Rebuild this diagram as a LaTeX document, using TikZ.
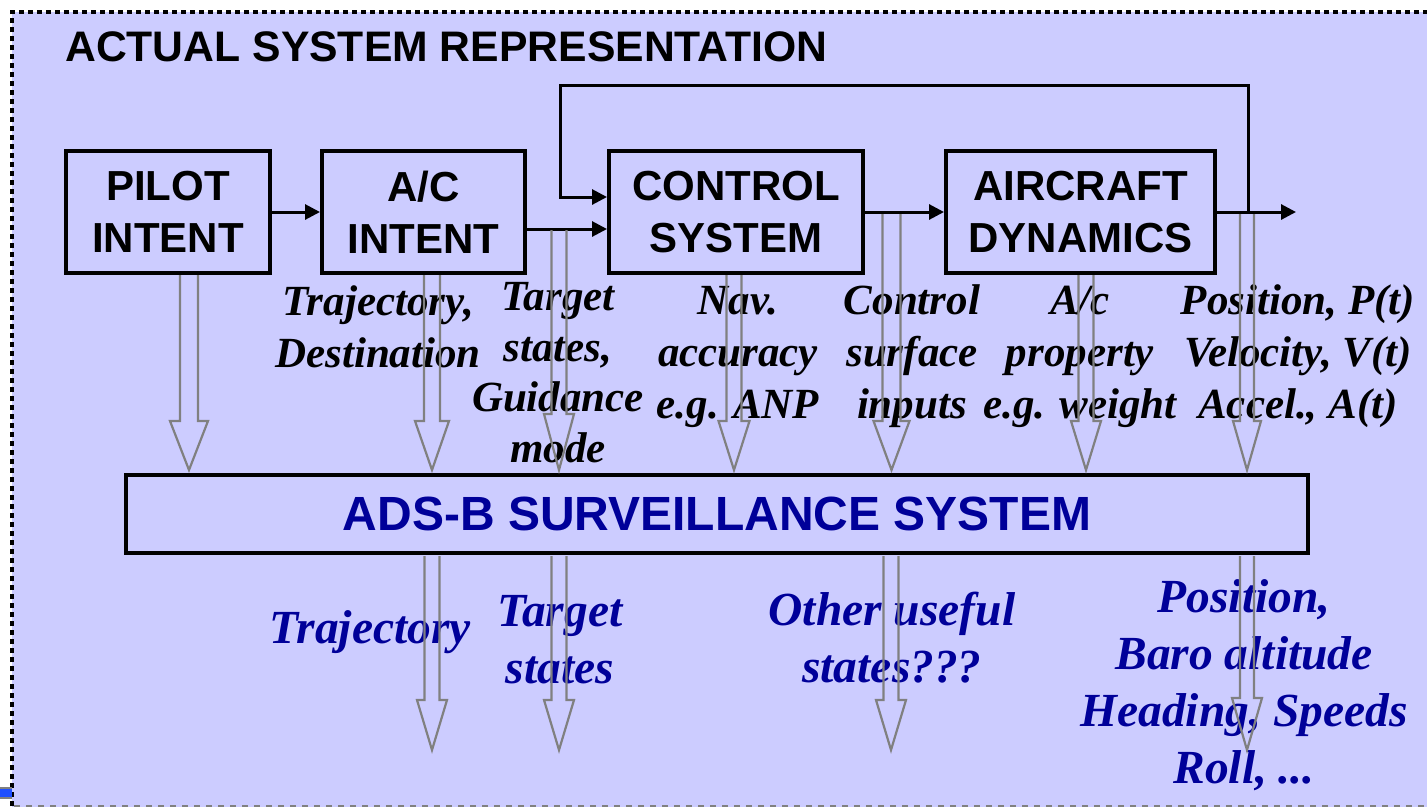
\documentclass[tikz,border=0pt]{standalone}
\usepackage{fontspec}
\setmainfont{Liberation Serif}
\setsansfont{Liberation Sans}
\usetikzlibrary{arrows.meta}
\definecolor{bgc}{HTML}{CCCCFF}
\definecolor{dblue}{HTML}{000099}
\definecolor{agray}{HTML}{808080}
\definecolor{mblue}{HTML}{1F4FFF}
\newcommand\hollowarrow[6]{%
  \draw[hollow] (#1-#5,#2) -- (#1-#5,#3) -- (#1-#6,#3) -- (#1,#4) -- (#1+#6,#3) -- (#1+#5,#3) -- (#1+#5,#2);}
\begin{document}
\begin{tikzpicture}[x=1pt,y=-1pt,
  blk/.style={draw=black, line width=4pt, fill=bgc, inner sep=0pt, align=center,
    font=\sffamily\bfseries\fontsize{42}{52}\selectfont},
  flow/.style={line width=3pt, -{Triangle[length=15pt,width=15pt]}},
  lab/.style={font=\bfseries\itshape\fontsize{43}{52}\selectfont, align=center, anchor=base, inner sep=0pt},
  blab/.style={font=\bfseries\itshape\fontsize{47.5}{57}\selectfont, text=dblue, align=center, anchor=base, inner sep=0pt},
  hollow/.style={draw=agray, line width=2.2pt, line join=miter}
]
\useasboundingbox (0,0) rectangle (1427,807);
% background and frame
\fill[bgc] (12,12) rectangle (1427,807);
\draw[black, line width=4.5pt, dash pattern=on 5pt off 4pt] (12,806) -- (12,12) -- (1427,12);
\draw[agray, line width=1.5pt, dash pattern=on 6pt off 6pt] (14,806) -- (1427,806);
\fill[agray] (0,787) rectangle (12,799);
\fill[mblue] (0,789) rectangle (12,797);

% title
\node[anchor=base west, inner sep=0pt, font=\sffamily\bfseries\fontsize{42.7}{50}\selectfont] (title) at (65,61) {ACTUAL SYSTEM REPRESENTATION};

% boxes
\node[blk, minimum width=204pt, minimum height=122pt] (pilot) at (168,212) {PILOT\\INTENT};
\node[blk, minimum width=203pt, minimum height=122pt] (acint) at (423.5,212) {A/C\\INTENT};
\node[blk, minimum width=254pt, minimum height=122pt] (ctrl) at (736,212) {CONTROL\\SYSTEM};
\node[blk, minimum width=269pt, minimum height=122pt] (dyn) at (1080.5,212) {AIRCRAFT\\DYNAMICS};
\node[blk, minimum width=1182pt, minimum height=78pt, text=dblue,
  font=\sffamily\bfseries\fontsize{48}{56}\selectfont] (adsb) at (717,514) {ADS-B SURVEILLANCE SYSTEM};

% connectors
\coordinate (out) at (1296,212);
\coordinate (fb) at (1248,212);
\coordinate (fbtop) at (1248,85);
\coordinate (fbleft) at (560,85);
\coordinate (fbdown) at (560,197);
\draw[flow] (pilot.east) -- (acint.west);
\draw[flow] (acint.east |- 0,229) -- (ctrl.west |- 0,229);
\draw[flow] (ctrl.east) -- (dyn.west);
\draw[flow] (dyn.east) -- (out);
\draw[flow] (fb) -- (fbtop) -- (fbleft) -- (fbdown) -- (ctrl.west |- fbdown);

% upper labels (anchor = baseline of last line)
\node[lab] (l1) at (378,367) {Trajectory,\\Destination};
\node[lab, font=\bfseries\itshape\fontsize{43}{50.5}\selectfont] (l2) at (558,462) {Target\\states,\\Guidance\\mode};
\node[lab] (l3) at (738,418) {Nav.\\accuracy\\e.g. ANP};
\node[lab] (l4) at (912,418) {Control\\surface\\inputs};
\node[lab] (l5) at (1080,418) {A/c\\property\\e.g. weight};
\node[lab] (l6) at (1298,418) {Position, P(t)\\Velocity, V(t)\\Accel., A(t)};

% lower labels
\node[blab] (b1) at (370,643) {Trajectory};
\node[blab] (b2) at (560,683) {Target\\states};
\node[blab] (b3) at (892,682) {Other useful\\states???};
\node[blab] (b4) at (1244,783) {Position,\\Baro altitude\\Heading, Speeds\\Roll, ...};

% hollow block arrows (upper)
\hollowarrow{189}{275}{421}{470}{9}{19}
\hollowarrow{432}{275}{421}{470}{8}{17}
\hollowarrow{559}{230}{414}{470}{7.5}{15}
\hollowarrow{734}{275}{421}{470}{7.5}{15.5}
\hollowarrow{891.5}{214}{421}{470}{9}{18}
\hollowarrow{1086}{275}{421}{470}{7.5}{15}
\hollowarrow{1247}{214}{421}{470}{7}{14}
% hollow block arrows (lower)
\hollowarrow{432}{556}{700}{750}{7.5}{15}
\hollowarrow{559}{556}{700}{750}{7.5}{15}
\hollowarrow{891}{556}{700}{750}{7.5}{15}
\hollowarrow{1247}{556}{698}{750}{7}{15}
\end{tikzpicture}
\end{document}
